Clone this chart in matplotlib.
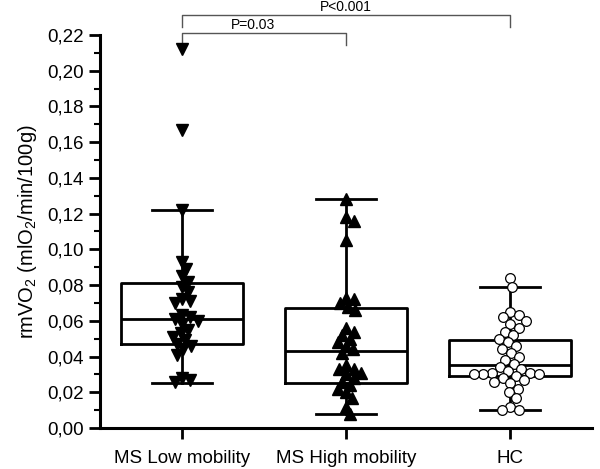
import matplotlib
matplotlib.use("Agg")
import matplotlib.pyplot as plt
import matplotlib.ticker as ticker
import numpy as np

plt.rcParams["font.family"] = ["Liberation Sans", "DejaVu Sans"]
plt.rcParams["mathtext.default"] = "regular"

groups = ["MS Low mobility", "MS High mobility", "HC"]

# box statistics
q1 = [0.047, 0.025, 0.029]
med = [0.061, 0.043, 0.035]
q3 = [0.081, 0.067, 0.049]
whislo = [0.025, 0.008, 0.010]
whishi = [0.122, 0.128, 0.079]

# individual values
low_mob = [0.212, 0.167, 0.122, 0.093, 0.089, 0.085, 0.082, 0.079, 0.076,
           0.072, 0.071, 0.070, 0.063, 0.062, 0.061, 0.060, 0.058, 0.055,
           0.053, 0.051, 0.049, 0.047, 0.046, 0.044, 0.041, 0.028, 0.027,
           0.026]
high_mob = [0.128, 0.118, 0.116, 0.105, 0.073, 0.072, 0.070, 0.068, 0.066,
            0.056, 0.054, 0.052, 0.050, 0.048, 0.046, 0.044, 0.042, 0.035,
            0.033, 0.033, 0.031, 0.030, 0.028, 0.026, 0.024, 0.022, 0.020,
            0.017, 0.012, 0.008]
hc = [0.084, 0.079, 0.065, 0.063, 0.062, 0.060, 0.058, 0.056, 0.054, 0.052,
      0.050, 0.048, 0.046, 0.044, 0.042, 0.040, 0.038, 0.036, 0.034, 0.033,
      0.032, 0.031, 0.031, 0.030, 0.030, 0.030, 0.029, 0.028, 0.027, 0.026,
      0.025, 0.022, 0.020, 0.017, 0.012, 0.010, 0.010]

pvals = ["P=0.03", "P<0.001"]

fig = plt.figure(figsize=(6, 4.69), dpi=100)
ax = fig.add_axes([0.1667, 0.0874, 0.82, 0.838])
ax.set_xlim(0.5, 3.5)
ax.set_ylim(0, 0.22)

# pixels per data unit, used to lay points out as a swarm
xs_px = 0.82 * 600 / 3.0
ys_px = 0.838 * 469 / 0.22


def swarm(vals, xc, d):
    placed = []
    xs = []
    for v in vals:
        y = v * ys_px
        best = 0.0
        for k in range(0, 200):
            for off in ([0.0] if k == 0 else [k * 0.5, -k * 0.5]):
                ok = all((off - px) ** 2 + (y - py) ** 2 >= d * d
                         for px, py in placed)
                if ok:
                    best = off
                    break
            else:
                continue
            break
        placed.append((best, y))
        xs.append(xc + best / xs_px)
    return xs


stats = []
for i in range(3):
    stats.append(dict(q1=q1[i], med=med[i], q3=q3[i],
                      whislo=whislo[i], whishi=whishi[i], label=groups[i]))

lw = 2
ax.bxp(stats, positions=[1, 2, 3], widths=0.74, showfliers=False,
       boxprops=dict(color="black", linewidth=lw),
       medianprops=dict(color="black", linewidth=lw),
       whiskerprops=dict(color="black", linewidth=lw),
       capprops=dict(color="black", linewidth=lw),
       capwidths=0.37, zorder=2)

ax.plot(swarm(low_mob, 1, 8), low_mob, linestyle="none", marker="v",
        markersize=8, color="black", zorder=3, clip_on=False)
ax.plot(swarm(high_mob, 2, 8), high_mob, linestyle="none", marker="^",
        markersize=8, color="black", zorder=3, clip_on=False)
ax.plot(swarm(hc, 3, 9), hc, linestyle="none", marker="o",
        markersize=7, markerfacecolor="white", markeredgecolor="black",
        markeredgewidth=0.9, zorder=3, clip_on=False)

ax.spines["top"].set_visible(False)
ax.spines["right"].set_visible(False)
ax.spines["left"].set_linewidth(2.2)
ax.spines["bottom"].set_linewidth(2.2)

ax.yaxis.set_major_locator(ticker.MultipleLocator(0.02))
ax.yaxis.set_minor_locator(ticker.MultipleLocator(0.01))
ax.yaxis.set_major_formatter(
    ticker.FuncFormatter(lambda v, p: ("%.2f" % v).replace(".", ",")))
ax.tick_params(axis="y", which="major", length=8, width=2, labelsize=13.5)
ax.tick_params(axis="y", which="minor", length=4, width=1.5)
ax.tick_params(axis="x", length=8, width=2, labelsize=13.5, pad=8)
ax.set_xticks([1, 2, 3])
ax.set_xticklabels(groups)
ax.set_ylabel("rmVO$_2$ (mlO$_2$/min/100g)", fontsize=14.5, labelpad=6)


# significance brackets above the plot
def bracket(x1, x2, y_top, y_bot, text, tx):
    ax.plot([x1, x1, x2, x2], [y_bot, y_top, y_top, y_bot], color="#555555",
            linewidth=1, clip_on=False, transform=ax.get_xaxis_transform())
    ax.text(tx, y_top + 0.011, text, ha="center", va="baseline", fontsize=10,
            transform=ax.get_xaxis_transform())


bracket(1, 2, 1.005, 0.975, pvals[0], 1.43)
bracket(1, 3, 1.051, 1.02, pvals[1], 2.0)

fig.savefig("out.png", dpi=100)
